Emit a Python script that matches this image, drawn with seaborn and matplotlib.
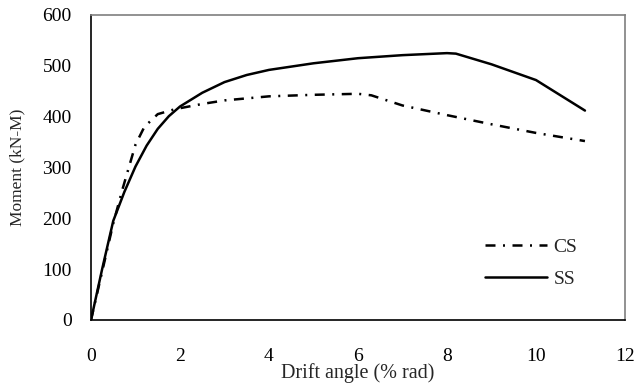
import numpy as np
import pandas as pd
import matplotlib
matplotlib.use("Agg")
import matplotlib.pyplot as plt
import seaborn as sns

# Data
ss_x = [0, 0.25, 0.5, 0.75, 1.0, 1.25, 1.5, 1.75, 2.0, 2.5, 3.0, 3.5, 4.0, 5.0, 6.0, 7.0, 8.0, 8.2, 9.0, 10.0, 11.1]
ss_y = [0, 100, 195, 252, 302, 343, 376, 401, 420, 447, 468, 482, 492, 505, 515, 521, 525, 524, 503, 472, 412]
cs_x = [0, 0.5, 0.7, 0.85, 1.0, 1.2, 1.5, 1.9, 2.5, 3.0, 4.0, 5.0, 6.0, 6.3, 7.0, 8.0, 9.0, 10.0, 11.1]
cs_y = [0, 190, 255, 300, 345, 380, 405, 415, 425, 432, 440, 443, 445, 442, 422, 403, 385, 368, 352]
x_ticks = [0, 2, 4, 6, 8, 10, 12]
y_ticks = [0, 100, 200, 300, 400, 500, 600]

df = pd.concat([
    pd.DataFrame({"x": cs_x, "y": cs_y, "series": "CS"}),
    pd.DataFrame({"x": ss_x, "y": ss_y, "series": "SS"}),
], ignore_index=True)

sns.set_theme(style="white")
plt.rcParams["font.family"] = ["Liberation Serif", "DejaVu Serif"]

fig = plt.figure(figsize=(6.36, 3.85), dpi=100)
ax = fig.add_axes([91/636, (385-320)/385, 534/636, 305/385])

sns.lineplot(data=df, x="x", y="y", style="series", sort=False, ax=ax,
             color="black", linewidth=1.8,
             dashes={"CS": (4, 3, 0.8, 3), "SS": ""}, estimator=None)

ax.set_xlim(0, 12)
ax.set_ylim(0, 600)
ax.set_xticks(x_ticks)
ax.set_yticks(y_ticks)
ax.tick_params(axis="both", length=0, labelsize=14, colors="black")
ax.tick_params(axis="x", pad=20)
ax.tick_params(axis="y", pad=14)
ax.set_xlabel("Drift angle (% rad)", fontsize=14.5, labelpad=-1)
ax.set_ylabel("Moment (kN-M)", fontsize=12.5, labelpad=12)

for s in ["left", "bottom"]:
    ax.spines[s].set_color("black")
    ax.spines[s].set_linewidth(1.2)
for s in ["top", "right"]:
    ax.spines[s].set_color("#7f7f7f")
    ax.spines[s].set_linewidth(1.2)

handles, labels = ax.get_legend_handles_labels()
ax.legend(handles, labels, frameon=False, fontsize=14, handlelength=3.2,
          labelspacing=0.75, handletextpad=0.35,
          loc="center left", bbox_to_anchor=((467-91)/534, 1 - (263-15)/305))

fig.savefig("out.png", dpi=100)
